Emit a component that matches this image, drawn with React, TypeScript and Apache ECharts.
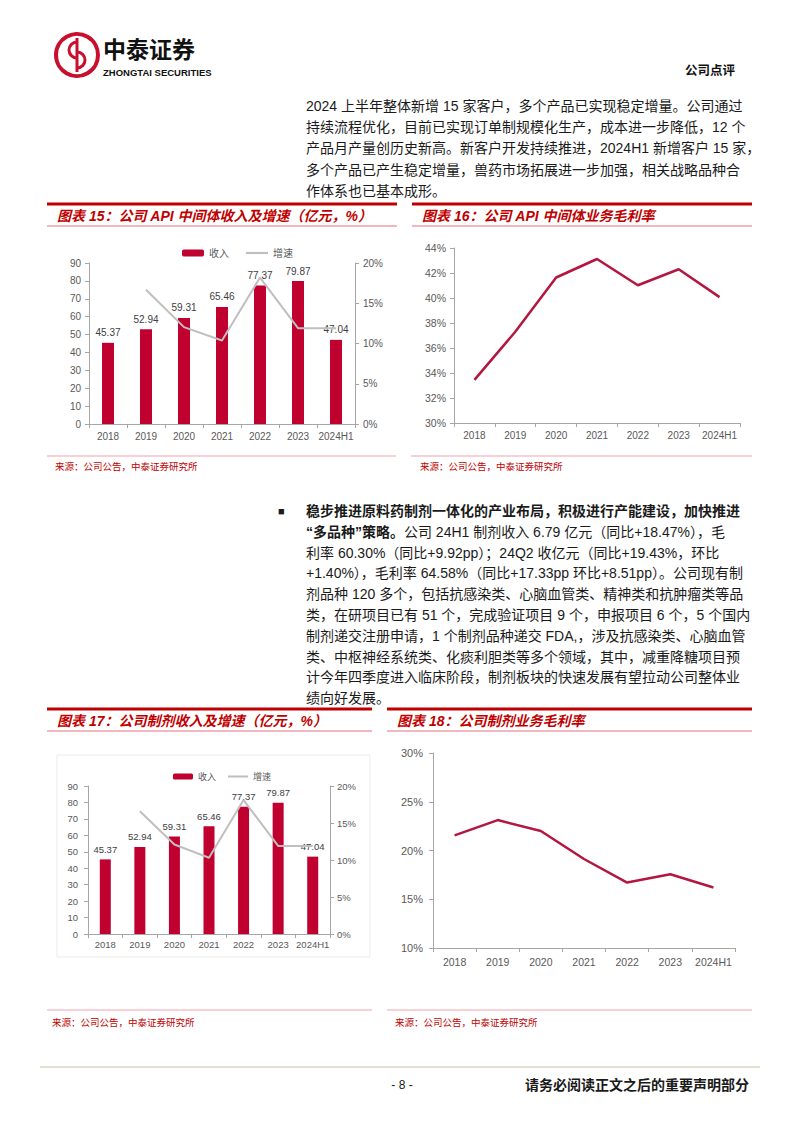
import React, { useEffect, useRef } from "react";
import * as echarts from "echarts";

// ---------- data ----------
const years = ["2018", "2019", "2020", "2021", "2022", "2023", "2024H1"];
const apiRevenue = [45.37, 52.94, 59.31, 65.46, 77.37, 79.87, 47.04];
const apiGrowth = [null, 16.68, 12.03, 10.37, 18.19, 11.9, 11.9];
const apiMargin = [33.45, 37.3, 41.64, 43.12, 41.02, 42.3, 40.07];
const prepRevenue = [45.37, 52.94, 59.31, 65.46, 77.37, 79.87, 47.04];
const prepGrowth = [null, 16.6, 12.1, 10.3, 18.1, 11.9, 11.9];
const prepMargin = [21.55, 23.12, 22.0, 19.13, 16.71, 17.56, 16.2];

const revenueAxis = { min: 0, max: 90, interval: 10 };
const growthAxis = { min: 0, max: 20, interval: 5 };
const apiMarginAxis = { min: 30, max: 44, interval: 2 };
const prepMarginAxis = { min: 10, max: 30, interval: 5 };

const legendNames = ["收入", "增速"];

const para1 = [
  "2024 上半年整体新增 15 家客户，多个产品已实现稳定增量。公司通过",
  "持续流程优化，目前已实现订单制规模化生产，成本进一步降低，12 个",
  "产品月产量创历史新高。新客户开发持续推进，2024H1 新增客户 15 家，",
  "多个产品已产生稳定增量，兽药市场拓展进一步加强，相关战略品种合",
  "作体系也已基本成形。",
];
const para2First = "稳步推进原料药制剂一体化的产业布局，积极进行产能建设，加快推进";
const para2SecondBold = "“多品种”策略。";
const para2SecondRest = "公司 24H1 制剂收入 6.79 亿元（同比+18.47%），毛";
const para2Rest = [
  "利率 60.30%（同比+9.92pp）；24Q2 收亿元（同比+19.43%，环比",
  "+1.40%），毛利率 64.58%（同比+17.33pp 环比+8.51pp）。公司现有制",
  "剂品种 120 多个，包括抗感染类、心脑血管类、精神类和抗肿瘤类等品",
  "类，在研项目已有 51 个，完成验证项目 9 个，申报项目 6 个，5 个国内",
  "制剂递交注册申请，1 个制剂品种递交 FDA,，涉及抗感染类、心脑血管",
  "类、中枢神经系统类、化痰利胆类等多个领域，其中，减重降糖项目预",
  "计今年四季度进入临床阶段，制剂板块的快速发展有望拉动公司整体业",
  "绩向好发展。",
];

// ---------- styles ----------
const RED = "#C0002F";
const LINE_RED = "#B3173F";
const TITLE_RED = "#C00000";
const GRAY_LINE = "#BFBFBF";
const AXIS = "#A6A6A6";
const LABEL = "#595959";
const NUM_FONT = "'Liberation Sans', Arial, sans-serif";
const CJK_FONT = "'Liberation Sans', 'Noto Sans CJK SC', sans-serif";
const LINE_ICON = "path://M0,0 L20,0 L20,2 L0,2 Z";

function catAxis(gridIndex: number, fontSize: number, margin: number) {
  return {
    type: "category",
    gridIndex,
    data: years,
    boundaryGap: true,
    axisLine: { show: true, lineStyle: { color: AXIS, width: 1 } },
    axisTick: { show: true, length: 4, lineStyle: { color: AXIS } },
    axisLabel: { color: LABEL, fontSize, fontFamily: NUM_FONT, margin, interval: 0 },
    splitLine: { show: false },
  };
}

function valAxis(
  gridIndex: number,
  range: { min: number; max: number; interval: number },
  fontSize: number,
  margin: number,
  opts: any = {}
) {
  return {
    type: "value",
    gridIndex,
    min: range.min,
    max: range.max,
    interval: range.interval,
    position: opts.position || "left",
    axisLine: { show: true, lineStyle: { color: AXIS, width: 1 } },
    axisTick: { show: true, length: 4, lineStyle: { color: AXIS } },
    axisLabel: {
      color: LABEL,
      fontSize,
      fontFamily: NUM_FONT,
      margin,
      formatter: opts.percent ? "{value}%" : "{value}",
    },
    splitLine: { show: false },
  };
}

function txt(x: number, y: number, text: string, style: any = {}) {
  return {
    type: "text",
    x,
    y,
    silent: true,
    style: {
      text,
      fontFamily: CJK_FONT,
      fontSize: 14,
      fill: "#1a1a1a",
      align: "left",
      verticalAlign: "middle",
      ...style,
    },
  };
}

function hline(x1: number, x2: number, y: number, stroke: string, lineWidth: number) {
  return {
    type: "line",
    silent: true,
    shape: { x1, y1: y, x2, y2: y },
    style: { stroke, lineWidth },
  };
}

function chartTitle(x1: number, x2: number, yTop: number, title: string) {
  return [
    hline(x1, x2, yTop, TITLE_RED, 3),
    txt(x1 + 10, yTop + 11.5, title, {
      fill: TITLE_RED,
      fontSize: 14,
      fontWeight: "bold",
      fontStyle: "italic",
    }),
    hline(x1, x2, yTop + 22, "#E2707E", 1),
  ];
}

function source(x1: number, x2: number, yLine: number, xText: number, yText: number) {
  return [
    hline(x1, x2, yLine, "#EFA3AC", 1),
    txt(xText, yText, "来源：公司公告，中泰证券研究所", { fill: TITLE_RED, fontSize: 9.5 }),
  ];
}

function legendData() {
  return [{ name: legendNames[0] }, { name: legendNames[1], icon: LINE_ICON }];
}

export default function App() {
  const ref = useRef<HTMLDivElement>(null);

  useEffect(() => {
    document.body.style.margin = "0";
    document.body.style.background = "#ffffff";
    if (!ref.current) return;
    const chart = echarts.init(ref.current, undefined, { renderer: "svg" });

    const graphics: any[] = [];

    // header / logo
    graphics.push({
      type: "circle",
      silent: true,
      shape: { cx: 77, cy: 55, r: 21 },
      style: { fill: "none", stroke: "#C8102E", lineWidth: 4 },
    });
    graphics.push({
      type: "arc",
      silent: true,
      shape: { cx: 77, cy: 50, r: 8, startAngle: Math.PI / 2, endAngle: (3 * Math.PI) / 2 },
      style: { fill: "none", stroke: "#C8102E", lineWidth: 3 },
    });
    graphics.push({
      type: "arc",
      silent: true,
      shape: { cx: 77, cy: 60, r: 8, startAngle: -Math.PI / 2, endAngle: Math.PI / 2 },
      style: { fill: "none", stroke: "#C8102E", lineWidth: 3 },
    });
    graphics.push({
      type: "line",
      silent: true,
      shape: { x1: 77, y1: 38, x2: 77, y2: 72 },
      style: { stroke: "#C8102E", lineWidth: 3 },
    });
    graphics.push(
      txt(103, 48, "中泰证券", {
        fontSize: 23,
        fontWeight: "bold",
        fill: "#111",
        fontFamily: "'Noto Sans CJK SC', sans-serif",
        lineHeight: 24,
      })
    );
    graphics.push(
      txt(103, 72, "ZHONGTAI SECURITIES", {
        fontSize: 9.5,
        fontWeight: "bold",
        fill: "#111",
        fontFamily: NUM_FONT,
        lineHeight: 10,
      })
    );
    graphics.push(txt(685, 71, "公司点评", { fontSize: 12.5, fontWeight: "bold", fill: "#111" }));

    // paragraph 1
    para1.forEach((line, i) => {
      graphics.push(txt(306, 106 + i * 21.2, line));
    });

    // chart titles (top)
    graphics.push(...chartTitle(47, 397, 204, "图表 15：公司 API 中间体收入及增速（亿元，%）"));
    graphics.push(...chartTitle(412, 752, 204, "图表 16：公司 API 中间体业务毛利率"));
    graphics.push(...source(47, 396, 456, 55, 466));
    graphics.push(...source(411, 752, 456, 420, 466));

    // paragraph 2
    graphics.push(txt(278, 511, "■", { fontSize: 11 }));
    graphics.push(txt(306, 511, para2First, { fontWeight: "bold" }));
    graphics.push({
      type: "text",
      x: 306,
      y: 531.8,
      silent: true,
      style: {
        text: "{b|" + para2SecondBold + "}{n|" + para2SecondRest + "}",
        verticalAlign: "middle",
        align: "left",
        rich: {
          b: { fontFamily: CJK_FONT, fontSize: 14, fontWeight: "bold", fill: "#1a1a1a" },
          n: { fontFamily: CJK_FONT, fontSize: 14, fill: "#1a1a1a" },
        },
      },
    });
    para2Rest.forEach((line, i) => {
      graphics.push(txt(306, 552.6 + i * 20.8, line));
    });

    // chart titles (bottom)
    graphics.push(...chartTitle(47, 372, 709, "图表 17：公司制剂收入及增速（亿元，%）"));
    graphics.push(...chartTitle(387, 752, 709, "图表 18：公司制剂业务毛利率"));
    graphics.push({
      type: "rect",
      silent: true,
      shape: { x: 57, y: 755, width: 313, height: 202 },
      style: { fill: "none", stroke: "#EBEBEB", lineWidth: 1 },
    });
    graphics.push(...source(47, 372, 1010, 52, 1022));
    graphics.push(...source(387, 752, 1010, 395, 1022));

    // footer
    graphics.push(hline(40, 760, 1067, "#CDBFA3", 1));
    graphics.push(txt(402, 1085, "- 8 -", { fontSize: 12, align: "center", fontFamily: NUM_FONT }));
    graphics.push(
      txt(749, 1085, "请务必阅读正文之后的重要声明部分", { fontSize: 14, fontWeight: "bold", align: "right" })
    );

    const option: any = {
      animation: false,
      backgroundColor: "#ffffff",
      textStyle: { fontFamily: NUM_FONT },
      legend: [
        {
          left: 177,
          top: 243,
          data: legendData(),
          itemWidth: 22,
          itemHeight: 7,
          itemGap: 17,
          textStyle: { fontSize: 10, color: LABEL, fontFamily: CJK_FONT },
        },
        {
          left: 168,
          top: 767,
          data: legendData(),
          itemWidth: 20,
          itemHeight: 6,
          itemGap: 12,
          textStyle: { fontSize: 9, color: LABEL, fontFamily: CJK_FONT },
        },
      ],
      grid: [
        { left: 89, top: 263, width: 266, height: 161 },
        { left: 454, top: 248, width: 286, height: 175 },
        { left: 88, top: 786, width: 242, height: 148 },
        { left: 433, top: 753, width: 302, height: 195 },
      ],
      xAxis: [
        catAxis(0, 10, 7),
        catAxis(1, 10, 7),
        catAxis(2, 9.5, 5),
        catAxis(3, 10.5, 8),
      ],
      yAxis: [
        valAxis(0, revenueAxis, 10, 8),
        valAxis(0, growthAxis, 10, 8, { position: "right", percent: true }),
        valAxis(1, apiMarginAxis, 10.5, 8, { percent: true }),
        valAxis(2, revenueAxis, 9.5, 10),
        valAxis(2, growthAxis, 9.5, 7, { position: "right", percent: true }),
        valAxis(3, prepMarginAxis, 11, 10, { percent: true }),
      ],
      series: [
        {
          name: "收入",
          type: "bar",
          xAxisIndex: 0,
          yAxisIndex: 0,
          data: apiRevenue,
          barWidth: 12,
          itemStyle: { color: RED },
          label: { show: true, position: "top", distance: 5, fontSize: 10, color: "#404040", fontFamily: NUM_FONT },
        },
        {
          name: "增速",
          type: "line",
          xAxisIndex: 0,
          yAxisIndex: 1,
          data: apiGrowth,
          symbol: "none",
          connectNulls: false,
          lineStyle: { color: GRAY_LINE, width: 2 },
          itemStyle: { color: GRAY_LINE },
          z: 3,
        },
        {
          name: "毛利率",
          type: "line",
          xAxisIndex: 1,
          yAxisIndex: 2,
          data: apiMargin,
          symbol: "none",
          lineStyle: { color: LINE_RED, width: 2.5 },
          itemStyle: { color: LINE_RED },
        },
        {
          name: "收入",
          type: "bar",
          xAxisIndex: 2,
          yAxisIndex: 3,
          data: prepRevenue,
          barWidth: 11,
          itemStyle: { color: RED },
          label: { show: true, position: "top", distance: 5, fontSize: 9.5, color: "#404040", fontFamily: NUM_FONT },
        },
        {
          name: "增速",
          type: "line",
          xAxisIndex: 2,
          yAxisIndex: 4,
          data: prepGrowth,
          symbol: "none",
          connectNulls: false,
          lineStyle: { color: GRAY_LINE, width: 2 },
          itemStyle: { color: GRAY_LINE },
          z: 3,
        },
        {
          name: "制剂毛利率",
          type: "line",
          xAxisIndex: 3,
          yAxisIndex: 5,
          data: prepMargin,
          symbol: "none",
          lineStyle: { color: LINE_RED, width: 2.5 },
          itemStyle: { color: LINE_RED },
        },
      ],
      graphic: { elements: graphics },
    };

    chart.setOption(option);
    return () => {
      chart.dispose();
    };
  }, []);

  return (
    <div
      ref={ref}
      style={{ position: "absolute", left: 0, top: 0, width: 802, height: 1133, background: "#fff" }}
    />
  );
}
